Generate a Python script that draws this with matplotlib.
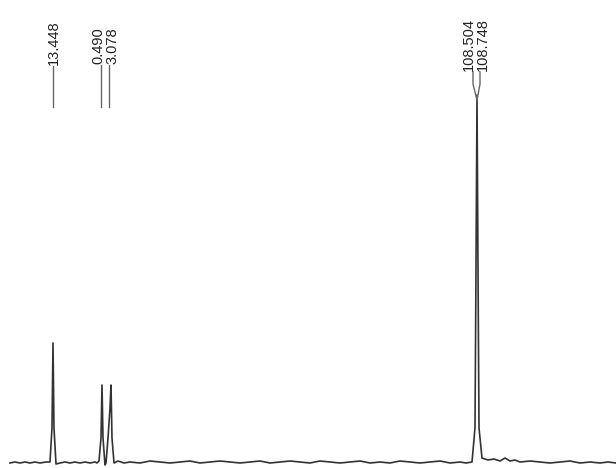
import matplotlib
matplotlib.use("Agg")
import matplotlib.pyplot as plt

plt.rcParams['font.family'] = ['Liberation Sans', 'DejaVu Sans']

# spectrum trace (arbitrary x units, intensity above zero), written piece by piece
trace_x = ([10, 15, 20, 25, 30, 35, 40, 46, 50]
           + [52, 53, 54, 56]
           + [60, 65, 70, 75, 80, 85, 90, 95, 97, 99]
           + [101, 102, 103, 105, 106, 108, 110, 111, 112, 114]
           + [118, 124, 130, 140, 150, 160, 170, 180, 190, 200, 210, 220, 230, 240, 250, 260,
              270, 280, 290, 300, 310, 320, 330, 340, 350, 360, 370, 380, 390, 400, 410, 420,
              430, 440, 450, 460, 466]
           + [472, 475, 476, 477, 478, 479, 482]
           + [488, 494, 500, 505, 510, 515, 520, 530, 540, 550, 560, 570, 580, 590, 600, 608, 616])
trace_y = ([5, 6, 5, 6, 5, 6, 5, 6, 6]
           + [40, 125, 40, 4]
           + [5, 6, 5, 6, 5, 6, 5, 6, 5, 7]
           + [30, 83, 30, 3, 5, 30, 60, 83, 30, 5]
           + [7, 5, 6, 5, 7, 6, 5, 6, 7, 5, 6, 7, 6, 5, 6, 7,
              5, 6, 7, 6, 5, 7, 6, 5, 6, 7, 5, 6, 5, 7, 6, 5,
              6, 7, 5, 6, 5]
           + [6, 40, 200, 373, 200, 40, 10]
           + [8, 9, 7, 10, 7, 8, 6, 7, 6, 5, 6, 7, 5, 6, 5, 6, 5])

# peak labels
peak_labels = ["13.448", "0.490", "3.078", "108.504", "108.748"]
text_x = [54, 98.5, 112, 469, 483]
line_x = [53, 101, 109, 473, 480]
peak_x = [53, 101, 109, 477, 477]

fig = plt.figure(figsize=(6.16, 4.68), dpi=100)
ax = fig.add_axes([0, 0, 1, 1])
ax.set_xlim(0, 616)
ax.set_ylim(0, 468)
ax.axis('off')

ax.plot(trace_x, trace_y, color='#333333', lw=1.2)

text_base = [402, 403, 403, 396, 396]
for lab, tx, lx, px, tb in zip(peak_labels, text_x, line_x, peak_x, text_base):
    ax.text(tx, tb + 1, lab, rotation=90, ha='center', va='bottom',
            fontsize=10.5, color='#222222')
    if lx == px:
        ax.plot([lx, lx], [tb, 361], color='#666666', lw=1)
    else:
        ax.plot([lx, lx, px], [tb, 384, 368], color='#666666', lw=1)

fig.savefig("out.png", dpi=100)
